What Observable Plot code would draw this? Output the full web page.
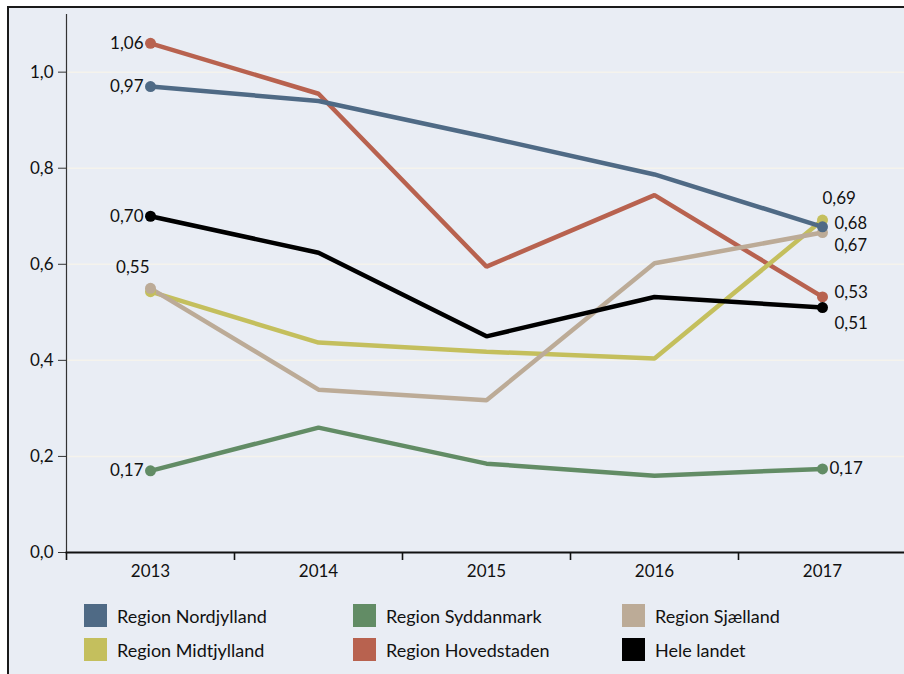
<!DOCTYPE html>
<html>
<head>
<meta charset="utf-8">
<script src="https://cdn.jsdelivr.net/npm/d3@7"></script>
<script src="https://cdn.jsdelivr.net/npm/@observablehq/plot@0.6"></script>
<style>
  html, body { margin: 0; padding: 0; background: #fff; width: 904px; height: 674px; overflow: hidden; }
  #frame { position: absolute; left: 7px; top: 6px; width: 920px; height: 700px; border-left: 2px solid #1a1a1a; border-top: 2px solid #1a1a1a; background: #e9edf4; }
  #chart { position: absolute; left: 0; top: 0; }
  #legend { position: absolute; left: 84px; top: 604px; display: grid; grid-template-columns: 269px 269px 269px; row-gap: 11px; font-family: Lato, sans-serif; font-size: 18px; color: #111; }
  .item { display: flex; align-items: center; height: 23px; }
  .sw { width: 23px; height: 23px; margin-right: 10px; flex: none; }
</style>
</head>
<body>
<div id="frame"></div>
<div id="chart"></div>
<div id="legend"></div>
<script>
const years = [2013, 2014, 2015, 2016, 2017];
const seriesNames = ["Region Nordjylland", "Region Syddanmark", "Region Sjælland", "Region Midtjylland", "Region Hovedstaden", "Hele landet"];
const seriesColors = ["#4f6a85", "#628c65", "#bcab97", "#c4bf5d", "#b8624f", "#000000"];
const nordjylland = [0.97, 0.94, 0.865, 0.787, 0.678];
const syddanmark = [0.17, 0.26, 0.185, 0.16, 0.174];
const sjaelland = [0.55, 0.339, 0.317, 0.602, 0.666];
const midtjylland = [0.543, 0.437, 0.418, 0.404, 0.692];
const hovedstaden = [1.06, 0.955, 0.595, 0.744, 0.532];
const heleLandet = [0.70, 0.624, 0.45, 0.532, 0.51];
const yTicks = [0, 0.2, 0.4, 0.6, 0.8, 1.0];

const valuesByName = {
  "Region Nordjylland": nordjylland,
  "Region Syddanmark": syddanmark,
  "Region Sjælland": sjaelland,
  "Region Midtjylland": midtjylland,
  "Region Hovedstaden": hovedstaden,
  "Hele landet": heleLandet
};
// drawing order (later on top)
const drawOrder = ["Region Syddanmark", "Region Hovedstaden", "Region Midtjylland", "Region Sjælland", "Hele landet", "Region Nordjylland"];
const rows = [];
for (const name of drawOrder) {
  valuesByName[name].forEach((v, i) => rows.push({series: name, year: years[i], value: v}));
}
const ends = rows.filter(d => d.year === years[0] || d.year === years[years.length - 1]);
const fmt = v => v.toFixed(2).replace(".", ",");
const lab = (name, year, opts) => Plot.text(rows.filter(d => d.series === name && d.year === year), {
  x: "year", y: "value", text: d => fmt(d.value), fill: "#111", fontSize: 17, ...opts
});

const first = years[0], last = years[years.length - 1];
const chart = Plot.plot({
  width: 904, height: 600,
  marginLeft: 66, marginTop: 14, marginBottom: 48, marginRight: 0,
  style: {background: "transparent", fontFamily: "Lato, sans-serif", fontSize: "17px", color: "#111", overflow: "visible"},
  x: {domain: [first - 0.5, last + 0.5], range: [66, 906], label: null},
  y: {domain: [0, 1.12], label: null},
  color: {domain: seriesNames, range: seriesColors},
  marks: [
    Plot.gridY(yTicks.slice(1), {stroke: "#f5f3ec", strokeOpacity: 1, strokeWidth: 1.5}),
    Plot.axisY({ticks: yTicks, label: null, tickSize: 8, tickPadding: 5, stroke: "#333", fill: "#111", fontSize: 17, tickFormat: d => d.toFixed(1).replace(".", ",")}),
    Plot.axisX({ticks: years, label: null, tickSize: 0, tickPadding: 12, fill: "#111", fontSize: 17, tickFormat: d => String(d)}),
    Plot.axisX({ticks: years.map(y => y - 0.5), label: null, tickSize: 8, strokeWidth: 1.6, stroke: "#111", tickFormat: () => ""}),
    Plot.frame({anchor: "left", stroke: "#333", strokeWidth: 1.2}),
    Plot.frame({anchor: "bottom", stroke: "#111", strokeWidth: 2}),
    Plot.line(rows, {x: "year", y: "value", z: "series", stroke: "series", strokeWidth: 4.5, strokeLinejoin: "miter", strokeLinecap: "butt"}),
    Plot.dot(ends, {x: "year", y: "value", fill: "series", r: 5.5}),
    lab("Region Hovedstaden", first, {textAnchor: "end", dx: -7}),
    lab("Region Nordjylland", first, {textAnchor: "end", dx: -7}),
    lab("Hele landet", first, {textAnchor: "end", dx: -7}),
    lab("Region Syddanmark", first, {textAnchor: "end", dx: -7}),
    lab("Region Sjælland", first, {textAnchor: "end", dx: -1, dy: -21}),
    lab("Region Midtjylland", last, {textAnchor: "start", dx: 0, dy: -22}),
    lab("Region Nordjylland", last, {textAnchor: "start", dx: 12, dy: -3, fontSize: 16.5}),
    lab("Region Sjælland", last, {textAnchor: "start", dx: 12, dy: 13, fontSize: 16.5}),
    lab("Region Hovedstaden", last, {textAnchor: "start", dx: 12, dy: -4}),
    lab("Hele landet", last, {textAnchor: "start", dx: 12, dy: 16}),
    lab("Region Syddanmark", last, {textAnchor: "start", dx: 7, dy: 0})
  ]
});
document.getElementById("chart").appendChild(chart);

const legend = document.getElementById("legend");
seriesNames.forEach((name, i) => {
  const item = document.createElement("div");
  item.className = "item";
  const sw = document.createElement("div");
  sw.className = "sw";
  sw.style.background = seriesColors[i];
  const t = document.createElement("span");
  t.textContent = name;
  item.appendChild(sw);
  item.appendChild(t);
  legend.appendChild(item);
});
</script>
</body>
</html>
